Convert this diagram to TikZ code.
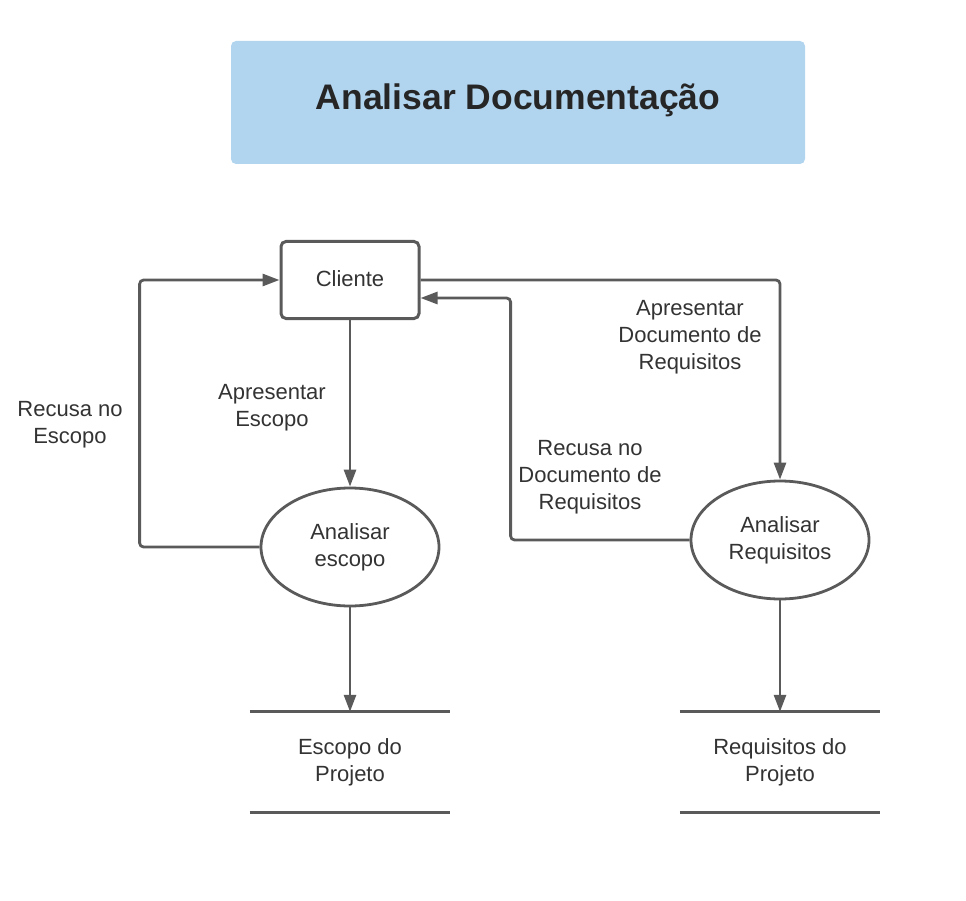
\documentclass[tikz,border=0pt]{standalone}
\usepackage{fontspec}
\setmainfont{Liberation Sans}
\usetikzlibrary{shapes.geometric,arrows.meta}
\definecolor{linegray}{HTML}{5A5A5A}
\definecolor{textgray}{HTML}{333333}
\definecolor{titleblue}{HTML}{B2D5EF}
\begin{document}
\begin{tikzpicture}[x=1pt, y=-1pt,
    every node/.style={text=textgray, font=\fontsize{22}{27}\selectfont},
    titlebox/.style={rectangle, fill=titleblue, rounded corners=5pt, minimum width=574pt, minimum height=123pt, inner sep=0pt},
    entity/.style={rectangle, draw=linegray, line width=3pt, rounded corners=5pt, minimum width=138pt, minimum height=77pt, inner sep=0pt},
    process/.style={ellipse, draw=linegray, line width=2.8pt, minimum width=178pt, minimum height=118pt, inner sep=0pt, align=center},
    store/.style={rectangle, minimum width=200pt, minimum height=100pt, inner sep=0pt, align=center},
    flow/.style={draw=linegray, line width=2.8pt, rounded corners=4pt, -{Triangle[length=17pt,width=12pt]}},
    lbl/.style={align=center}]
      \useasboundingbox (0,0) rectangle (966,901);

      \node[titlebox] (title) at (518, 102.5) {};
      \node[font=\fontsize{35.5}{40}\selectfont\bfseries, text=black!85] (titletext) at (518, 100) {Analisar Documentação};

      \node[entity, text depth=3pt]  (cli) at (350, 280) {Cliente};
      \node[process] (esc) at (350, 547) {Analisar\\escopo};
      \node[process] (req) at (780, 540) {Analisar\\Requisitos};
      \node[store]   (escst) at (350, 762) {Escopo do\\Projeto};
      \node[store]   (reqst) at (780, 762) {Requisitos do\\Projeto};

      % store lines
      \draw[linegray, line width=2.8pt] (escst.north west) -- (escst.north east);
      \draw[linegray, line width=2.8pt] (escst.south west) -- (escst.south east);
      \draw[linegray, line width=2.8pt] (reqst.north west) -- (reqst.north east);
      \draw[linegray, line width=2.8pt] (reqst.south west) -- (reqst.south east);

      \draw[flow] (cli.south) -- (esc.north);
      \draw[flow] (esc.west) -- ++(-120, 0) |- (cli.west);
      \draw[flow] (cli.east) -| (req.north);
      \draw[flow] (req.west) -- ++(-179, 0) |- ([yshift=-18pt]cli.east);
      \draw[flow] (esc.south) -- (escst.north);
      \draw[flow] (req.south) -- (reqst.north);

      \node[lbl] (a) at (70, 425) {Recusa no\\Escopo};
      \node[lbl] (b) at (272, 408) {Apresentar\\Escopo};
      \node[lbl] (c) at (690, 337) {Apresentar\\Documento de\\Requisitos};
      \node[lbl] (d) at (590, 477) {Recusa no\\Documento de\\Requisitos};
    \end{tikzpicture}
\end{document}
